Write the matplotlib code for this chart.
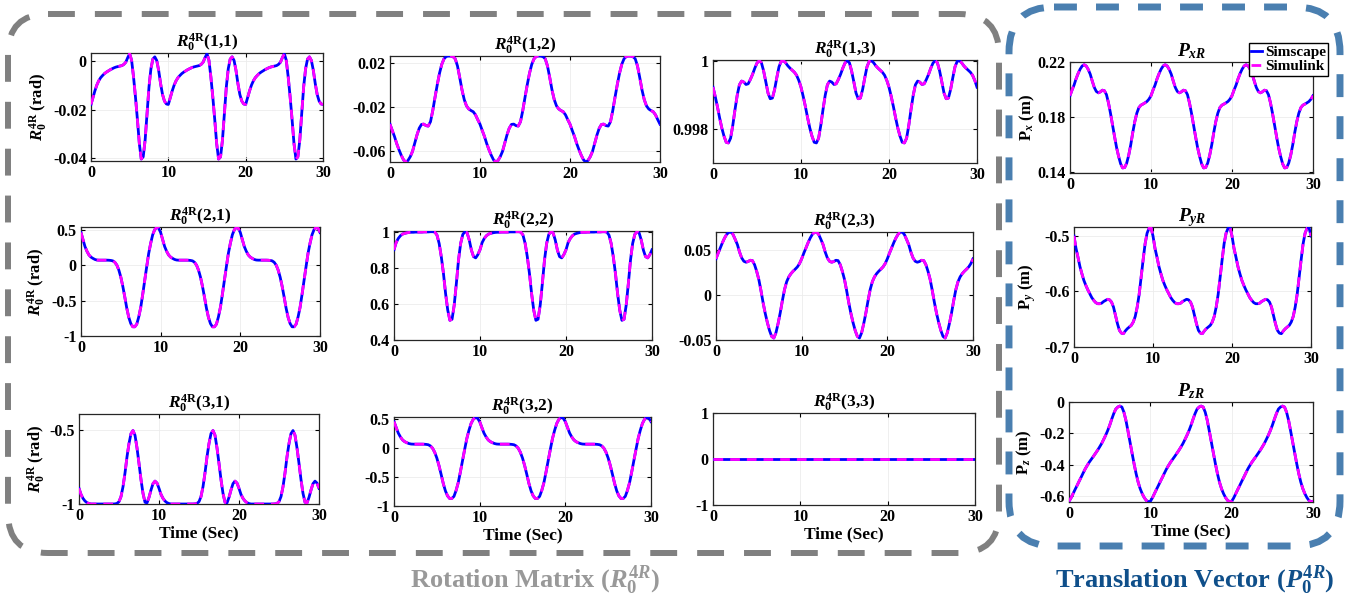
import numpy as np
import matplotlib
matplotlib.use("Agg")
import matplotlib.pyplot as plt
from matplotlib.patches import FancyBboxPatch

plt.rcParams.update({
    "font.family": ["Liberation Serif", "DejaVu Serif"],
    "font.weight": "bold",
    "mathtext.fontset": "custom",
    "mathtext.rm": "Liberation Serif:bold",
    "mathtext.it": "Liberation Serif:italic:bold",
    "mathtext.bf": "Liberation Serif:bold",
    "axes.unicode_minus": False,
})

# ---------------------------------------------------------------------------
# Data: each trajectory repeats every 10 s; one cycle sampled every 0.25 s
# ---------------------------------------------------------------------------
period = 10.0
step = 0.25
n_cycles = 3
time = np.arange(0.0, n_cycles * period + step / 2, step)

r11_cycle = [-0.0178, -0.0150, -0.0122, -0.0098,
             -0.0080, -0.0067, -0.0058, -0.0050,
             -0.0044, -0.0039, -0.0034, -0.0030,
             -0.0026, -0.0023, -0.0021, -0.0019,
             -0.0017, -0.0012, -0.0003, 0.0016,
             0.0032, 0.0005, -0.0064, -0.0147,
             -0.0240, -0.0340, -0.0404, -0.0395,
             -0.0325, -0.0215, -0.0105, -0.0030,
             0.0010, 0.0019, 0.0004, -0.0037,
             -0.0092, -0.0137, -0.0164, -0.0176]

r12_cycle = [-0.0353, -0.0410, -0.0465, -0.0530,
             -0.0585, -0.0635, -0.0676, -0.0697,
             -0.0682, -0.0648, -0.0600, -0.0525,
             -0.0450, -0.0389, -0.0355, -0.0352,
             -0.0366, -0.0370, -0.0330, -0.0230,
             -0.0110, 0.0005, 0.0109, 0.0190,
             0.0240, 0.0262, 0.0266, 0.0265,
             0.0260, 0.0240, 0.0175, 0.0070,
             -0.0042, -0.0130, -0.0187, -0.0215,
             -0.0229, -0.0240, -0.0268, -0.0312]

r13_cycle = [0.99922, 0.99895, 0.99865, 0.99832,
             0.99802, 0.99778, 0.99760, 0.99758,
             0.99772, 0.99810, 0.99856, 0.99898,
             0.99929, 0.99940, 0.99937, 0.99930,
             0.99932, 0.99945, 0.99960, 0.99978,
             0.99993, 1.00000, 0.99994, 0.99970,
             0.99938, 0.99905, 0.99888, 0.99890,
             0.99915, 0.99950, 0.99982, 0.99998,
             1.00000, 0.99994, 0.99985, 0.99978,
             0.99972, 0.99966, 0.99957, 0.99942]

r21_cycle = [0.460, 0.360, 0.262, 0.195,
             0.143, 0.113, 0.095, 0.080,
             0.072, 0.070, 0.070, 0.070,
             0.070, 0.070, 0.069, 0.066,
             0.060, 0.040, 0.000, -0.070,
             -0.170, -0.300, -0.452, -0.610,
             -0.738, -0.825, -0.870, -0.870,
             -0.833, -0.730, -0.595, -0.410,
             -0.214, -0.020, 0.167, 0.310,
             0.429, 0.500, 0.533, 0.520]

r22_cycle = [0.900, 0.940, 0.963, 0.978,
             0.987, 0.991, 0.994, 0.996,
             0.997, 0.997, 0.998, 0.998,
             0.998, 0.998, 0.999, 0.999,
             0.999, 1.000, 1.000, 0.998,
             0.981, 0.935, 0.861, 0.769,
             0.657, 0.565, 0.509, 0.515,
             0.593, 0.713, 0.843, 0.935,
             0.985, 1.000, 0.994, 0.954,
             0.898, 0.862, 0.855, 0.873]

r23_cycle = [0.0405, 0.0468, 0.0526, 0.0585,
             0.0637, 0.0678, 0.0700, 0.0704,
             0.0674, 0.0620, 0.0563, 0.0480,
             0.0415, 0.0378, 0.0367, 0.0375,
             0.0389, 0.0385, 0.0340, 0.0265,
             0.0174, 0.0050, -0.0085, -0.0205,
             -0.0307, -0.0395, -0.0460, -0.0478,
             -0.0419, -0.0315, -0.0196, -0.0060,
             0.0063, 0.0150, 0.0204, 0.0240,
             0.0267, 0.0290, 0.0315, 0.0352]

r31_cycle = [-0.894, -0.935, -0.962, -0.980,
             -0.991, -0.997, -1.000, -1.000,
             -1.000, -1.000, -1.000, -1.000,
             -1.000, -1.000, -1.000, -1.000,
             -1.000, -1.000, -0.999, -0.996,
             -0.984, -0.950, -0.883, -0.790,
             -0.680, -0.590, -0.523, -0.502,
             -0.534, -0.620, -0.725, -0.835,
             -0.928, -0.988, -0.993, -0.955,
             -0.905, -0.862, -0.845, -0.858]

r32_cycle = [0.460, 0.360, 0.262, 0.195,
             0.143, 0.113, 0.095, 0.080,
             0.072, 0.070, 0.070, 0.070,
             0.070, 0.070, 0.069, 0.066,
             0.060, 0.040, 0.000, -0.070,
             -0.170, -0.300, -0.452, -0.610,
             -0.738, -0.825, -0.870, -0.870,
             -0.833, -0.730, -0.595, -0.410,
             -0.214, -0.020, 0.167, 0.310,
             0.429, 0.500, 0.533, 0.520]

r33_cycle = [0.0] * 40

px_cycle = [0.1957, 0.1998, 0.2034, 0.2080,
            0.2118, 0.2150, 0.2173, 0.2182,
            0.2173, 0.2148, 0.2113, 0.2063,
            0.2017, 0.1988, 0.1978, 0.1985,
            0.1997, 0.1993, 0.1965, 0.1905,
            0.1829, 0.1745, 0.1660, 0.1580,
            0.1516, 0.1462, 0.1432, 0.1435,
            0.1467, 0.1525, 0.1600, 0.1690,
            0.1769, 0.1830, 0.1870, 0.1888,
            0.1896, 0.1905, 0.1915, 0.1932]

py_cycle = [-0.500, -0.522, -0.538, -0.555,
            -0.568, -0.580, -0.589, -0.597,
            -0.604, -0.611, -0.616, -0.620,
            -0.622, -0.622, -0.621, -0.618,
            -0.616, -0.614, -0.615, -0.619,
            -0.628, -0.643, -0.658, -0.670,
            -0.675, -0.676, -0.671, -0.667,
            -0.664, -0.661, -0.655, -0.645,
            -0.628, -0.605, -0.574, -0.543,
            -0.514, -0.495, -0.486, -0.485]

pz_cycle = [-0.634, -0.612, -0.585, -0.558,
            -0.532, -0.505, -0.479, -0.452,
            -0.426, -0.404, -0.383, -0.365,
            -0.347, -0.328, -0.309, -0.288,
            -0.266, -0.240, -0.213, -0.183,
            -0.149, -0.110, -0.074, -0.045,
            -0.032, -0.026, -0.032, -0.065,
            -0.117, -0.185, -0.255, -0.325,
            -0.394, -0.457, -0.511, -0.553,
            -0.585, -0.610, -0.628, -0.636]

# Axis ranges and tick labels
x_ticks = [0, 10, 20, 30]
r11_ylim, r11_yticks, r11_ylabels = [-0.0412, 0.0035], [-0.04, -0.02, 0], ["-0.04", "-0.02", "0"]
r12_ylim, r12_yticks, r12_ylabels = [-0.0696, 0.0266], [-0.06, -0.02, 0.02], ["-0.06", "-0.02", "0.02"]
r13_ylim, r13_yticks, r13_ylabels = [0.99699, 1.00002], [0.998, 1.0], ["0.998", "1"]
r21_ylim, r21_yticks, r21_ylabels = [-1.0, 0.538], [-1, -0.5, 0, 0.5], ["-1", "-0.5", "0", "0.5"]
r22_ylim, r22_yticks, r22_ylabels = [0.4, 1.004], [0.4, 0.6, 0.8, 1.0], ["0.4", "0.6", "0.8", "1"]
r23_ylim, r23_yticks, r23_ylabels = [-0.0493, 0.0704], [-0.05, 0, 0.05], ["-0.05", "0", "0.05"]
r31_ylim, r31_yticks, r31_ylabels = [-1.0, -0.39], [-1, -0.5], ["-1", "-0.5"]
r32_ylim, r32_yticks, r32_ylabels = [-1.0, 0.54], [-1, -0.5, 0, 0.5], ["-1", "-0.5", "0", "0.5"]
r33_ylim, r33_yticks, r33_ylabels = [-1.0, 1.0], [-1, 0, 1], ["-1", "0", "1"]
px_ylim, px_yticks, px_ylabels = [0.1395, 0.2202], [0.14, 0.18, 0.22], ["0.14", "0.18", "0.22"]
py_ylim, py_yticks, py_ylabels = [-0.7, -0.4838], [-0.7, -0.6, -0.5], ["-0.7", "-0.6", "-0.5"]
pz_ylim, pz_yticks, pz_ylabels = [-0.638, 0.0], [-0.6, -0.4, -0.2, 0], ["-0.6", "-0.4", "-0.2", "0"]

legend_labels = ["Simscape", "Simulink"]


def full_series(cycle):
    """Repeat one sampled cycle over the whole run and close it at t = 30 s."""
    cycle = np.asarray(cycle, dtype=float)
    return np.append(np.tile(cycle, n_cycles), cycle[0])


# ---------------------------------------------------------------------------
# Figure
# ---------------------------------------------------------------------------
W, H = 1347, 600
fig = plt.figure(figsize=(W / 100, H / 100), dpi=100, facecolor="white")

# pixel-space canvas for the framing boxes and captions
canvas = fig.add_axes([0, 0, 1, 1], zorder=0)
canvas.set_xlim(0, W)
canvas.set_ylim(H, 0)
canvas.axis("off")

gray_box = FancyBboxPatch((8, 14), 991, 539,
                          boxstyle="round,pad=0,rounding_size=40",
                          facecolor="none", edgecolor="#808080",
                          linewidth=4.3, linestyle=(0, (4.5, 3.35)))
blue_box = FancyBboxPatch((1009, 7), 331, 539,
                          boxstyle="round,pad=0,rounding_size=45",
                          facecolor="none", edgecolor="#4a7fb0",
                          linewidth=5.0, linestyle=(0, (3.3, 2.75)))
canvas.add_patch(gray_box)
canvas.add_patch(blue_box)

canvas.text(535, 580, r"Rotation Matrix ($R_0^{4R}$)", ha="center", va="center",
            fontsize=19, color="#999999", fontweight="bold")
canvas.text(1195, 580, r"Translation Vector ($P_0^{4R}$)", ha="center", va="center",
            fontsize=19, color="#0f4f8a", fontweight="bold")

R_LABEL = r"$R_{0}^{\mathrm{4R}}$ (rad)"
R_TITLE = r"$R_{0}^{\mathrm{4R}}$"
panels = [
    # series, title, ylabel, ylim, yticks, ylabels, rect(px: x0, y0, x1, y1), ylabel offset px, xlabel
    (r11_cycle, R_TITLE + "(1,1)", R_LABEL, r11_ylim, r11_yticks, r11_ylabels, (91, 53, 323, 161), -41, False),
    (r12_cycle, R_TITLE + "(1,2)", None, r12_ylim, r12_yticks, r12_ylabels, (390, 56, 660, 162), 0, False),
    (r13_cycle, R_TITLE + "(1,3)", None, r13_ylim, r13_yticks, r13_ylabels, (713, 60, 977, 163), 0, False),
    (px_cycle, r"$P_{xR}$", r"$\mathrm{P}_{x}$ (m)", px_ylim, px_yticks, px_ylabels, (1070, 62, 1313, 173), -33, False),
    (r21_cycle, R_TITLE + "(2,1)", R_LABEL, r21_ylim, r21_yticks, r21_ylabels, (81, 227, 320, 336), -33, False),
    (r22_cycle, R_TITLE + "(2,2)", None, r22_ylim, r22_yticks, r22_ylabels, (394, 231, 652, 340), 0, False),
    (r23_cycle, R_TITLE + "(2,3)", None, r23_ylim, r23_yticks, r23_ylabels, (716, 232, 973, 340), 0, False),
    (py_cycle, r"$P_{yR}$", r"$\mathrm{P}_{y}$ (m)", py_ylim, py_yticks, py_ylabels, (1074, 227, 1311, 347), -36, False),
    (r31_cycle, R_TITLE + "(3,1)", R_LABEL, r31_ylim, r31_yticks, r31_ylabels, (79, 414, 319, 504), -31, True),
    (r32_cycle, R_TITLE + "(3,2)", None, r32_ylim, r32_yticks, r32_ylabels, (394, 417, 651, 506), 0, True),
    (r33_cycle, R_TITLE + "(3,3)", None, r33_ylim, r33_yticks, r33_ylabels, (713, 413, 975, 505), 0, True),
    (pz_cycle, r"$P_{zR}$", r"$\mathrm{P}_{z}$ (m)", pz_ylim, pz_yticks, pz_ylabels, (1069, 402, 1313, 502), -35, True),
]

for cycle, title, ylabel, ylim, yticks, ylabels, rect, lab_off, has_xlabel in panels:
    x0, y0, x1, y1 = rect
    ax = fig.add_axes([x0 / W, 1 - y1 / H, (x1 - x0) / W, (y1 - y0) / H], zorder=2)
    values = full_series(cycle)
    ax.plot(time, values, color="#0000ff", linewidth=2.0, label=legend_labels[0], zorder=3)
    ax.plot(time, values, color="#ff00ff", linewidth=2.0, linestyle=(0, (3.5, 2.5)),
            label=legend_labels[1], zorder=4)
    ax.set_xlim(0, 30)
    ax.set_ylim(*ylim)
    ax.set_xticks(x_ticks)
    ax.set_xticklabels([str(v) for v in x_ticks])
    ax.set_yticks(yticks)
    ax.set_yticklabels(ylabels)
    ax.grid(True, color="#ececec", linewidth=0.6, zorder=0)
    ax.set_axisbelow(True)
    ax.tick_params(direction="in", top=True, right=True, length=3, width=0.8,
                   labelsize=11.5, pad=3)
    for lab in ax.get_xticklabels() + ax.get_yticklabels():
        lab.set_fontweight("bold")
    for sp in ax.spines.values():
        sp.set_linewidth(0.9)
        sp.set_color("#262626")
    is_p = title.startswith(r"$P")
    ax.set_title(title, fontsize=14 if is_p else 12.5, fontweight="bold", pad=4)
    if ylabel:
        ax.set_ylabel(ylabel, fontsize=12, fontweight="bold")
        ax.yaxis.set_label_coords(lab_off / (x1 - x0), 0.5)
    if has_xlabel:
        ax.set_xlabel("Time (Sec)", fontsize=12.5, fontweight="bold", labelpad=1)
    if title == r"$P_{xR}$":
        ax.legend(loc="upper right", bbox_to_anchor=((1328 - x0) / (x1 - x0), (y1 - 43) / (y1 - y0)),
                  borderaxespad=0, handlelength=0.75, handletextpad=0.15,
                  borderpad=0.15, labelspacing=0.05, fancybox=False, framealpha=1,
                  edgecolor="black", prop={"weight": "bold", "size": 11})

fig.savefig("out.png", dpi=100, facecolor="white")
